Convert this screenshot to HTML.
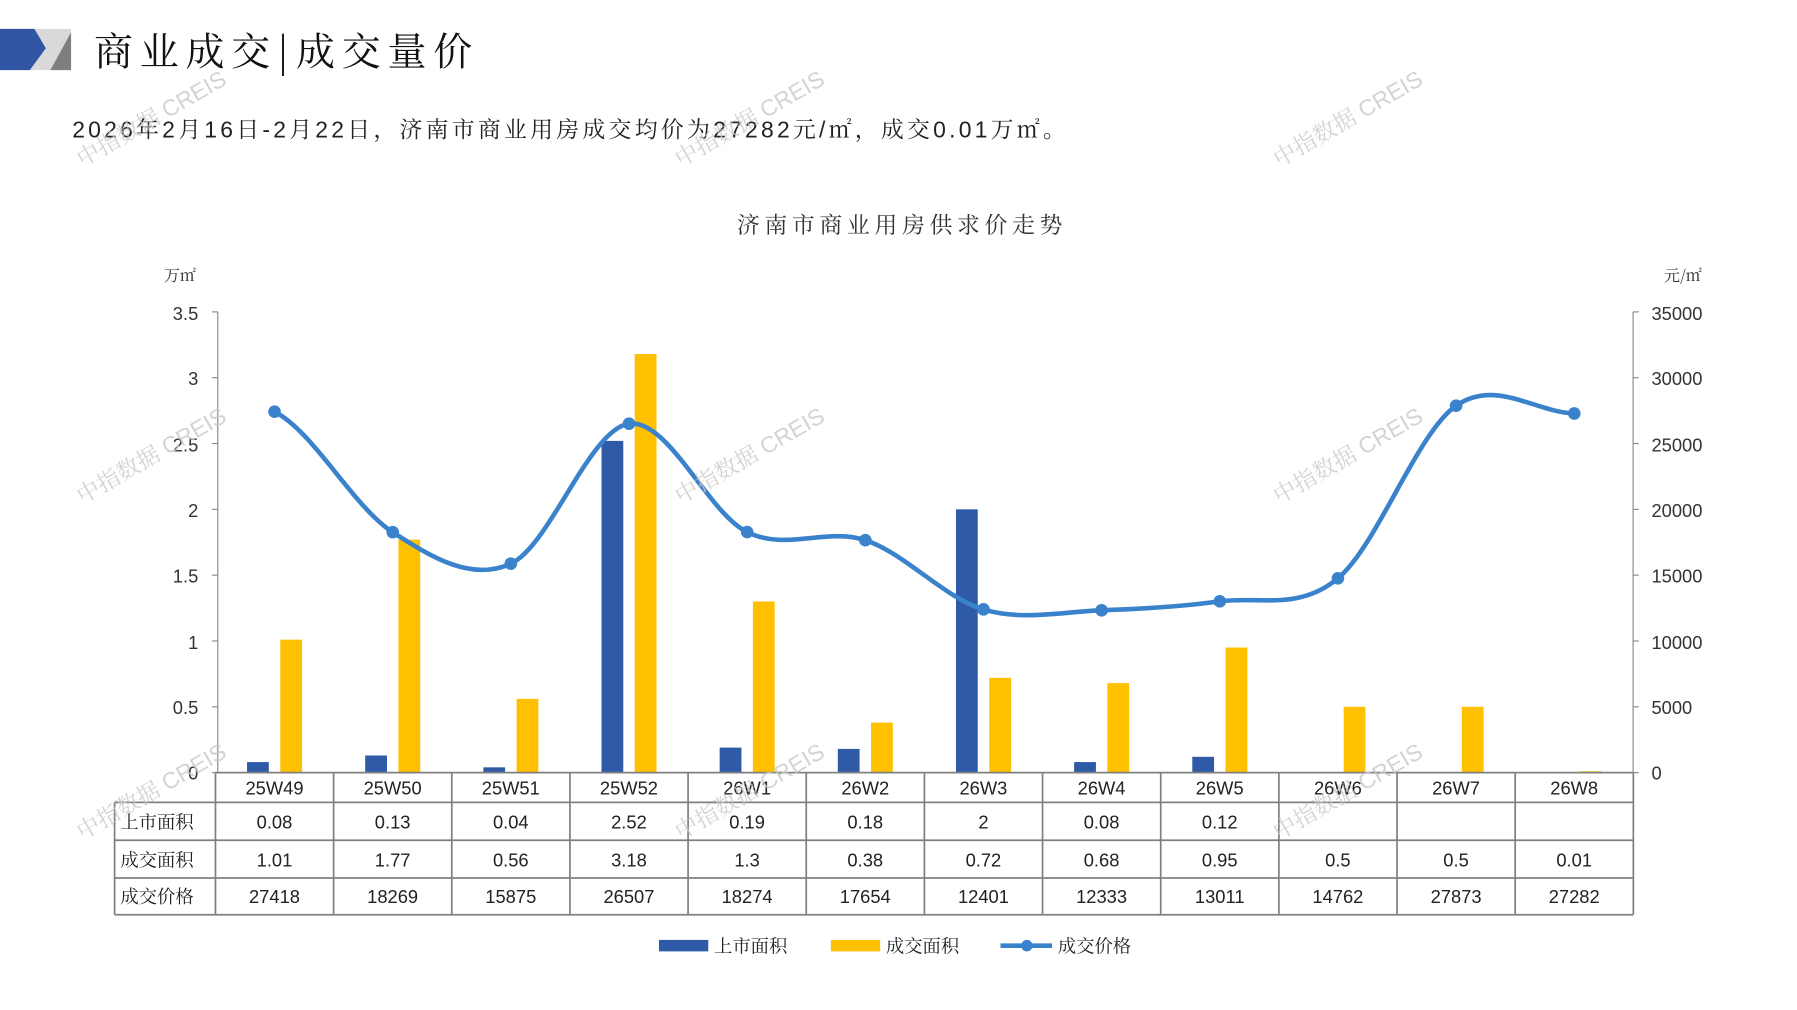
<!DOCTYPE html>
<html><head><meta charset="utf-8"><style>
html,body{margin:0;padding:0;background:#fff;}
svg{display:block;}
text{font-family:"Liberation Sans","Noto Serif CJK SC",serif;}
.cj{font-family:"Noto Serif CJK SC","Noto Sans CJK SC",serif;}
</style></head><body>
<svg width="1797" height="1010" viewBox="0 0 1568 881" xmlns="http://www.w3.org/2000/svg">
<rect width="1568" height="881" fill="#fff"/>
<polygon points="0,25 62,25 62,61 0,61" fill="#d9d9d9"/>
<polygon points="0,25 30,25 40,42 26,61 0,61" fill="#2f55a4"/>
<polygon points="62,28 62,61 44,61" fill="#7f7f7f"/>
<text x="82" y="57" font-size="34" class="cj" fill="#111" textLength="330" lengthAdjust="spacing">商业成交|成交量价</text>
<text x="63" y="120" font-size="20" fill="#222" font-family="Liberation Sans,Noto Sans CJK SC,sans-serif" textLength="867" lengthAdjust="spacing">2026年2月16日-2月22日，济南市商业用房成交均价为27282元/㎡，成交0.01万㎡。</text>
<text x="643" y="203" font-size="20" class="cj" fill="#333" textLength="284" lengthAdjust="spacing">济南市商业用房供求价走势</text>
<text x="143" y="245" font-size="14" class="cj" fill="#333">万㎡</text>
<text x="1452" y="245" font-size="14" class="cj" fill="#333">元/㎡</text>
<g id="axes" stroke="#888" stroke-width="1"></g>
<g font-size="16" fill="#333" text-anchor="end">
<text x="173" y="279">3.5</text><text x="173" y="336">3</text><text x="173" y="394">2.5</text><text x="173" y="451">2</text><text x="173" y="508">1.5</text><text x="173" y="566">1</text><text x="173" y="623">0.5</text><text x="173" y="680">0</text>
</g>
<g font-size="16" fill="#333" text-anchor="start">
<text x="1441" y="279">35000</text><text x="1441" y="336">30000</text><text x="1441" y="394">25000</text><text x="1441" y="451">20000</text><text x="1441" y="508">15000</text><text x="1441" y="566">10000</text><text x="1441" y="623">5000</text><text x="1441" y="680">0</text>
</g>
<g id="bars"></g>
<path d="M239.5,359.1 C273.9,376.6 308.2,442.1 342.6,464.2 C377.0,486.3 411.3,507.5 445.7,491.7 C480.1,475.9 514.4,374.2 548.8,369.6 C583.2,365.0 617.5,447.2 651.9,464.1 C686.3,481.0 720.6,459.95 755.0,471.2 C789.4,482.45 823.7,521.4 858.1,531.6 C892.5,541.8 926.8,533.6 961.2,532.4 C995.6,531.2 1029.9,529.25 1064.3,524.6 C1098.7,519.95 1133.0,533.0 1167.4,504.5 C1201.8,476.0 1236.1,377.9 1270.5,353.9 C1304.9,329.9 1339.2,359.5 1373.6,360.6" fill="none" stroke="#3a82cc" stroke-width="4"/>
<g id="dots" fill="#3a82cc"></g>
<g id="table" stroke="#808080" stroke-width="1.5"></g>
<g font-size="16" fill="#222" text-anchor="middle">
<text x="239.5" y="693">25W49</text><text x="342.6" y="693">25W50</text><text x="445.7" y="693">25W51</text><text x="548.8" y="693">25W52</text><text x="651.9" y="693">26W1</text><text x="755" y="693">26W2</text><text x="858.1" y="693">26W3</text><text x="961.2" y="693">26W4</text><text x="1064.3" y="693">26W5</text><text x="1167.4" y="693">26W6</text><text x="1270.5" y="693">26W7</text><text x="1373.6" y="693">26W8</text>
<text x="239.5" y="723">0.08</text><text x="342.6" y="723">0.13</text><text x="445.7" y="723">0.04</text><text x="548.8" y="723">2.52</text><text x="651.9" y="723">0.19</text><text x="755" y="723">0.18</text><text x="858.1" y="723">2</text><text x="961.2" y="723">0.08</text><text x="1064.3" y="723">0.12</text>
<text x="239.5" y="756">1.01</text><text x="342.6" y="756">1.77</text><text x="445.7" y="756">0.56</text><text x="548.8" y="756">3.18</text><text x="651.9" y="756">1.3</text><text x="755" y="756">0.38</text><text x="858.1" y="756">0.72</text><text x="961.2" y="756">0.68</text><text x="1064.3" y="756">0.95</text><text x="1167.4" y="756">0.5</text><text x="1270.5" y="756">0.5</text><text x="1373.6" y="756">0.01</text>
<text x="239.5" y="788">27418</text><text x="342.6" y="788">18269</text><text x="445.7" y="788">15875</text><text x="548.8" y="788">26507</text><text x="651.9" y="788">18274</text><text x="755" y="788">17654</text><text x="858.1" y="788">12401</text><text x="961.2" y="788">12333</text><text x="1064.3" y="788">13011</text><text x="1167.4" y="788">14762</text><text x="1270.5" y="788">27873</text><text x="1373.6" y="788">27282</text>
</g>
<g font-size="16" fill="#222" class="cj">
<text x="105" y="723">上市面积</text><text x="105" y="756">成交面积</text><text x="105" y="788">成交价格</text>
</g>
<rect x="575" y="820" width="43" height="10" fill="#2f5aa8"/>
<text x="623" y="831" font-size="16" class="cj" fill="#222">上市面积</text>
<rect x="725" y="820" width="43" height="10" fill="#ffc000"/>
<text x="773" y="831" font-size="16" class="cj" fill="#222">成交面积</text>
<line x1="873" y1="825" x2="918" y2="825" stroke="#3a82cc" stroke-width="4"/>
<circle cx="896" cy="825" r="5" fill="#3a82cc"/>
<text x="923" y="831" font-size="16" class="cj" fill="#222">成交价格</text>
<g font-size="20" fill="#c8c8c8" fill-opacity="0.8" font-family="Liberation Sans,Noto Sans CJK SC,sans-serif">
<text transform="translate(72,146) rotate(-30)">中指数据 CREIS</text>
<text transform="translate(594,146) rotate(-30)">中指数据 CREIS</text>
<text transform="translate(1116,146) rotate(-30)">中指数据 CREIS</text>
<text transform="translate(72,440) rotate(-30)">中指数据 CREIS</text>
<text transform="translate(594,440) rotate(-30)">中指数据 CREIS</text>
<text transform="translate(1116,440) rotate(-30)">中指数据 CREIS</text>
<text transform="translate(72,733) rotate(-30)">中指数据 CREIS</text>
<text transform="translate(594,733) rotate(-30)">中指数据 CREIS</text>
<text transform="translate(1116,733) rotate(-30)">中指数据 CREIS</text>
</g>
</svg>
<script>
var NS="http://www.w3.org/2000/svg";
function el(p,t,a){var e=document.createElementNS(NS,t);for(var k in a)e.setAttribute(k,a[k]);document.getElementById(p).appendChild(e);}
var ax="axes";
el(ax,"line",{x1:190,y1:272,x2:190,y2:674});
el(ax,"line",{x1:1425,y1:272,x2:1425,y2:674});
for(var i=0;i<8;i++){var y=272+i*57.43;el(ax,"line",{x1:185,y1:y,x2:190,y2:y});el(ax,"line",{x1:1425,y1:y,x2:1430,y2:y});}
var blue=[0.08,0.13,0.04,2.52,0.19,0.18,2,0.08,0.12,0,0,0];
var yel=[1.01,1.77,0.56,3.18,1.3,0.38,0.72,0.68,0.95,0.5,0.5,0.01];
var pr=[27418,18269,15875,26507,18274,17654,12401,12333,13011,14762,27873,27282];
var s=402/3.5;
for(var i=0;i<12;i++){var c=188+103.1*(i+0.5);
 if(blue[i])el("bars","rect",{x:c-24,y:674-blue[i]*s,width:19,height:blue[i]*s,fill:"#2f5aa8"});
 el("bars","rect",{x:c+5,y:674-yel[i]*s,width:19,height:yel[i]*s,fill:"#ffc000"});
 el("dots","circle",{cx:c,cy:674-pr[i]/35000*402,r:5.5});}
var T="table";
[674,700,733,766,798].forEach(function(y,j){el(T,"line",{x1:j==0?188:100,y1:y,x2:1425,y2:y});});
el(T,"line",{x1:100,y1:700,x2:100,y2:798});
for(var i=0;i<=12;i++){var x=188+103.1*i;el(T,"line",{x1:x,y1:674,x2:x,y2:798});}
</script>
</body></html>
